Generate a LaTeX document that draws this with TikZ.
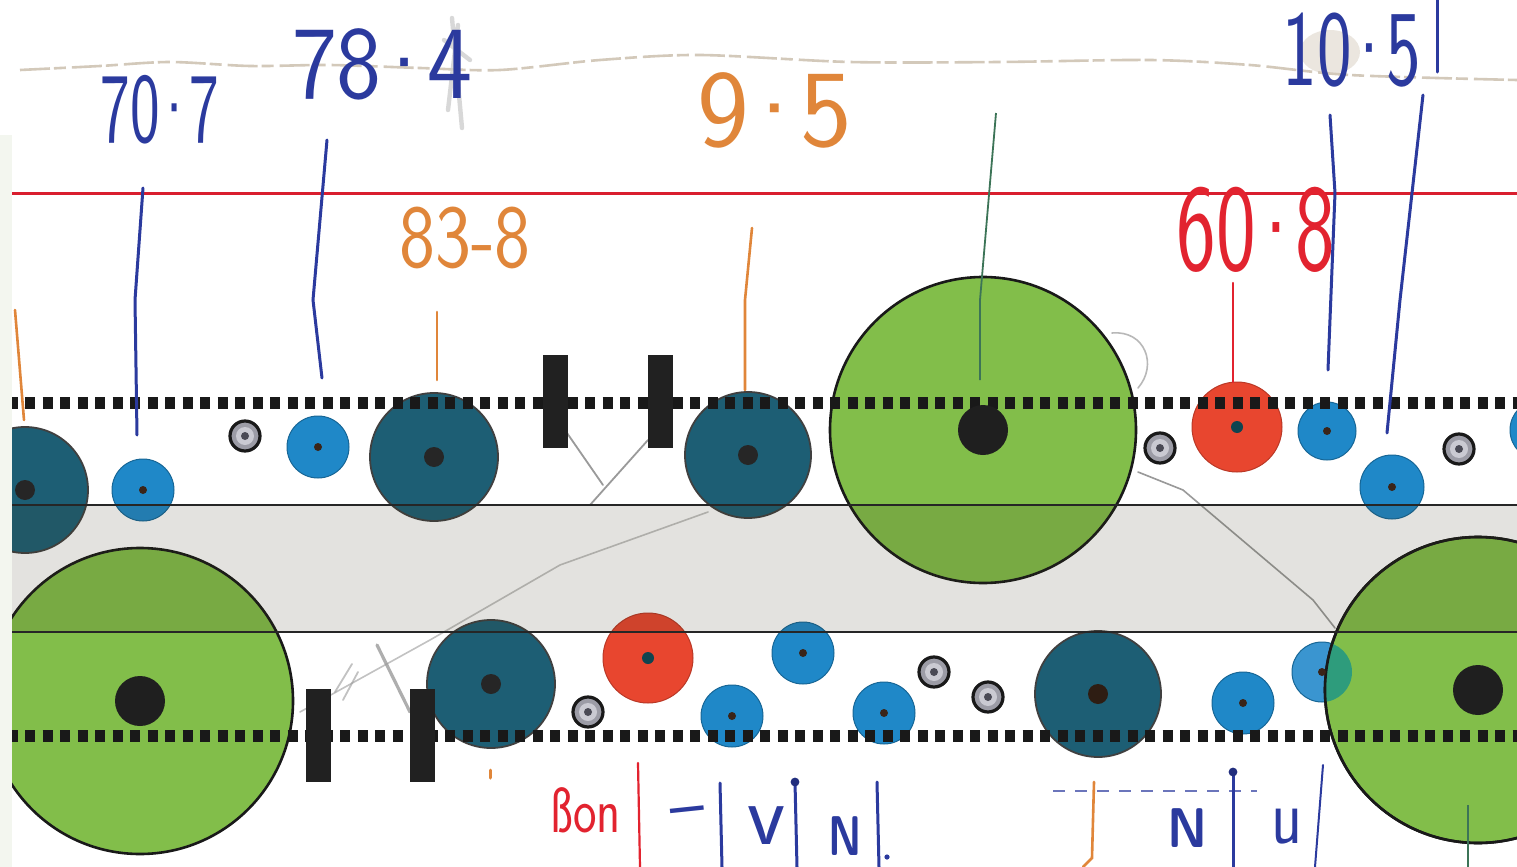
\documentclass[tikz,border=0pt]{standalone}
\usepackage{fontspec}
\usepackage{graphicx}
\definecolor{tealC}{HTML}{1D5E74}
\definecolor{blueC}{HTML}{1F88C8}
\definecolor{blueL}{HTML}{3A95D0}
\definecolor{redC}{HTML}{E8462F}
\definecolor{greenC}{HTML}{82BE4A}
\definecolor{ringC}{HTML}{9C9CA6}
\definecolor{ringL}{HTML}{CACAD2}
\definecolor{ringD}{HTML}{4A4A55}
\definecolor{inkBlue}{HTML}{2B3A9E}
\definecolor{inkOrange}{HTML}{E0863A}
\definecolor{inkRed}{HTML}{E2232F}
\definecolor{inkGreen}{HTML}{3C7457}
\definecolor{ruleRed}{HTML}{D91E2E}
\definecolor{tapeC}{HTML}{D3C9BA}
\definecolor{stripC}{HTML}{F3F6EF}
\definecolor{pencil}{HTML}{9A9A9A}
\definecolor{dotBrown}{HTML}{3A2418}
\definecolor{dotTeal}{HTML}{0F4450}
\definecolor{overlapC}{HTML}{2E9C7C}
\definecolor{bandC}{RGB}{60,55,30}
\newcommand{\hw}[3]{\scalebox{#1}[1]{\fontsize{#2}{#2}\selectfont\sffamily #3}}
\newcommand{\md}{\kern-0.13em·\kern-0.13em}
\tikzset{
  tealc/.style={circle,inner sep=0pt,minimum size=#1pt,fill=tealC,draw=black!75,line width=0.9pt},
  bluec/.style={circle,inner sep=0pt,minimum size=#1pt,fill=blueC,draw=blueC!75!black,line width=0.5pt},
  redc/.style={circle,inner sep=0pt,minimum size=#1pt,fill=redC,draw=redC!80!black,line width=0.5pt},
  greenc/.style={circle,inner sep=0pt,minimum size=#1pt,fill=greenC,draw=black!90,line width=1.3pt},
  ringc/.style={circle,inner sep=0pt,minimum size=15pt,fill=ringC,draw=black!90,line width=1.6pt},
  ringin/.style={circle,inner sep=0pt,minimum size=9pt,fill=ringL},
  ringdot/.style={circle,inner sep=0pt,minimum size=4pt,fill=ringD},
  tdot/.style={circle,inner sep=0pt,minimum size=10pt,fill=black!85},
  bdot/.style={circle,inner sep=0pt,minimum size=4pt,fill=dotBrown},
  rdot/.style={circle,inner sep=0pt,minimum size=6pt,fill=dotTeal},
  gdot/.style={circle,inner sep=0pt,minimum size=25pt,fill=black!88},
  bar/.style={rectangle,inner sep=0pt,minimum width=12.5pt,minimum height=46.5pt,fill=black!87},
  dotrow/.style={line width=6pt,dash pattern=on 5pt off 3.75pt,dash phase=2.25pt,black!90},
  thinrule/.style={line width=1pt,black!85},
  lab/.style={inner sep=0pt,anchor=center},
  inkb/.style={inkBlue,line width=1.5pt,line cap=round},
  inko/.style={inkOrange,line width=1.3pt,line cap=round},
  inkr/.style={inkRed,line width=1.1pt,line cap=round},
  pen/.style={pencil,line width=0.9pt,line cap=round},
}
\begin{document}
\begin{tikzpicture}[x=0.5pt,y=-0.5pt]
\useasboundingbox (0,0) rectangle (1517,867);
\fill[white] (0,0) rectangle (1517,867);
% tape smudge at the top
\draw[tapeC,line width=1.3pt,dash pattern=on 15pt off 2pt on 6pt off 3pt]
  plot[smooth] coordinates {(20,70) (100,66) (170,62) (250,66) (330,65) (420,68) (500,70) (600,60) (700,55) (850,62) (1000,62) (1150,60) (1250,65) (1350,75) (1517,80)};
\fill[tapeC,opacity=0.45] (1330,52) ellipse [x radius=15pt,y radius=11pt];
\draw[gray!40,line width=2.2pt,opacity=0.75,line cap=round] (452,18) -- (462,128) (444,40) -- (470,60) (458,25) -- (448,110);
% red rule
\coordinate (rl) at (12,193);
\coordinate (rr) at (1517,193);
\draw[ruleRed,line width=1.5pt] (rl) -- (rr);
% pencil lines
\draw[pen] (567,433) -- (603,485);
\draw[pen] (648,440) -- (590,505);
\draw[pen,opacity=0.6,line width=0.8pt] (708,512) -- (560,565) -- (430,640) -- (300,712);
\draw[pen,line width=1.6pt,opacity=0.8] (377,645) -- (410,712);
\draw[pen,opacity=0.6] (335,692) -- (352,664) (343,700) -- (358,672);
\draw[pen,line width=0.8pt] (1138,472) -- (1183,490) -- (1313,600) -- (1335,628);
\draw[pen,opacity=0.7,line width=0.8pt] (1112,333) .. controls (1145,330) and (1158,365) .. (1138,388);
% top row circles
\node[tealc=63] (T1) at (25,490) {};
\node[bluec=31] (B1) at (143,490) {};
\node[ringc] (R1) at (245,436) {};
\node[bluec=31] (B2) at (318,447) {};
\node[tealc=64] (T2) at (434,457) {};
\node[tealc=63] (T3) at (748,455) {};
\node[greenc=153] (G1) at (983,430) {};
\node[ringc] (R2) at (1160,448) {};
\node[redc=45] (Q1) at (1237,427) {};
\node[bluec=29] (B3) at (1327,431) {};
\node[bluec=32] (B4) at (1392,487) {};
\node[ringc] (R3) at (1459,449) {};
\node[bluec=30] (B5) at (1540,430) {};
% bottom row circles
\node[greenc=153] (G2) at (140,701) {};
\node[tealc=64] (T4) at (491,684) {};
\node[ringc] (R4) at (588,712) {};
\node[redc=45] (Q2) at (648,658) {};
\node[bluec=31] (B6) at (732,716) {};
\node[bluec=31] (B7) at (803,653) {};
\node[bluec=31] (B8) at (884,713) {};
\node[ringc] (R5) at (934,672) {};
\node[ringc] (R6) at (988,697) {};
\node[tealc=63] (T5) at (1098,694) {};
\node[bluec=31] (B9) at (1243,703) {};
\node[bluec=30,fill=blueL] (B10) at (1322,672) {};
\node[greenc=153] (G3) at (1478,690) {};
\begin{scope}
  \clip (G3.center) circle [radius=76.5pt];
  \fill[overlapC] (B10.center) circle [radius=15pt];
\end{scope}
\draw[black!90,line width=1.3pt] (G3.center) circle [radius=76.5pt];
% grey band
\fill[bandC,fill opacity=0.14] (12,505) rectangle (1517,632);
\coordinate (b1l) at (12,505);
\coordinate (b1r) at (1517,505);
\coordinate (b2l) at (12,632);
\coordinate (b2r) at (1517,632);
\draw[thinrule] (b1l) -- (b1r);
\draw[thinrule] (b2l) -- (b2r);
% dotted rows
\coordinate (d1l) at (12,403);
\coordinate (d1r) at (1517,403);
\coordinate (d2l) at (12,736);
\coordinate (d2r) at (1517,736);
\draw[dotrow] (d1l) -- (d1r);
\draw[dotrow] (d2l) -- (d2r);
% bars
\node[bar] (K1) at (555.5,401.5) {};
\node[bar] (K2) at (660.5,401.5) {};
\node[bar] (K3) at (318.5,735) {};
\node[bar] (K4) at (422.5,735) {};
% centre dots
\node[tdot] (dT1) at (T1.center) {};
\node[tdot] (dT2) at (T2.center) {};
\node[tdot] (dT3) at (T3.center) {};
\node[tdot] (dT4) at (T4.center) {};
\node[tdot,fill=dotBrown!80!black] (dT5) at (T5.center) {};
\node[gdot] (dG1) at (G1.center) {};
\node[gdot] (dG2) at (G2.center) {};
\node[gdot] (dG3) at (G3.center) {};
\node[rdot] (dQ1) at (Q1.center) {};
\node[rdot] (dQ2) at (Q2.center) {};
\foreach \b in {B1,B2,B3,B4,B5,B6,B7,B8,B9,B10} {\node[bdot] (d\b) at (\b.center) {};}
\foreach \r in {R1,R2,R3,R4,R5,R6} {\node[ringin] (i\r) at (\r.center) {}; \node[ringdot] (c\r) at (\r.center) {};}
% labels
\node[lab,text=inkBlue] (l707) at (160,110) {\hw{0.63}{50}{70\md7}};
\node[lab,text=inkBlue] (l784) at (382,64) {\hw{0.92}{52}{78\md4}};
\node[lab,text=inkOrange] (l838) at (465,238) {\hw{0.85}{45}{83-8}};
\node[lab,text=inkOrange] (l95) at (775,110) {\hw{1.0}{55}{9\md5}};
\node[lab,text=inkRed] (l608) at (1256,230) {\hw{0.68}{62}{60\md8}};
\node[lab,text=inkBlue] (l105) at (1352,50) {\hw{0.68}{54}{10\md5}};
% label leader lines
\coordinate (a1) at (15,310); \coordinate (a2) at (24,420);
\draw[inko] (a1) -- (a2);
\coordinate (a3) at (143,188); \coordinate (a4) at (135,300); \coordinate (a5) at (137,435);
\draw[inkb] (a3) -- (a4) -- (a5);
\coordinate (a6) at (327,140); \coordinate (a7) at (313,300); \coordinate (a8) at (322,378);
\draw[inkb] (a6) -- (a7) -- (a8);
\coordinate (a9) at (437,312); \coordinate (a10) at (437,380);
\draw[inko] (a9) -- (a10);
\coordinate (a11) at (752,228); \coordinate (a12) at (745,300); \coordinate (a13) at (745,390);
\draw[inko] (a11) -- (a12) -- (a13);
\coordinate (a14) at (996,113); \coordinate (a15) at (980,300); \coordinate (a16) at (980,380);
\draw[inkGreen,line width=0.9pt] (a14) -- (a15) -- (a16);
\coordinate (a17) at (1233,283); \coordinate (a18) at (1233,382);
\draw[inkr] (a17) -- (a18);
\coordinate (a19) at (1330,115); \coordinate (a20) at (1335,193); \coordinate (a21) at (1328,370);
\draw[inkb] (a19) -- (a20) -- (a21);
\coordinate (a22) at (1423,95); \coordinate (a23) at (1400,300); \coordinate (a24) at (1387,433);
\draw[inkb] (a22) -- (a23) -- (a24);
\coordinate (a25) at (1437,0); \coordinate (a26) at (1437,72);
\draw[inkb] (a25) -- (a26);
% bottom marks
\node[lab,text=inkRed] (lbon) at (586,810) {\hw{0.78}{32}{ßon}};
\coordinate (m1) at (638,763); \coordinate (m2) at (640,867);
\draw[inkr] (m1) -- (m2);
\node[lab,text=inkBlue,rotate=6] (ldash) at (688,818) {\hw{1}{36}{–}};
\coordinate (m3) at (720,783); \coordinate (m4) at (722,867);
\draw[inkb] (m3) -- (m4);
\node[lab,text=inkBlue] (lv) at (767,826) {\hw{1}{44}{v}};
\coordinate (m5) at (795,782); \coordinate (m6) at (797,867);
\draw[inkb] (m5) -- (m6);
\fill[inkBlue!80!black] (m5) circle [radius=2.2pt];
\node[lab,text=inkBlue] (lN1) at (845,836) {\hw{0.75}{28}{\bfseries N}};
\coordinate (m7) at (877,782); \coordinate (m8) at (879,867);
\draw[inkb] (m7) -- (m8);
\fill[inkBlue] (887,857) circle [radius=1.3pt];
\coordinate (m9) at (490,770); \coordinate (m10) at (490,778);
\draw[inko,line width=1.5pt] (m9) -- (m10);
\coordinate (m11) at (1094,782); \coordinate (m12) at (1092,858); \coordinate (m13) at (1083,867);
\draw[inko] (m11) -- (m12) -- (m13);
\coordinate (m14) at (1053,791); \coordinate (m15) at (1257,791);
\draw[inkBlue!70,line width=0.6pt,dash pattern=on 6pt off 5pt] (m14) -- (m15);
\node[lab,text=inkBlue] (lN2) at (1188,828) {\hw{0.9}{28}{\bfseries N}};
\coordinate (m16) at (1233,772); \coordinate (m17) at (1233,867);
\draw[inkb] (m16) -- (m17);
\fill[inkBlue!80!black] (m16) circle [radius=2.2pt];
\node[lab,text=inkBlue] (lu) at (1287,827) {\hw{0.8}{40}{u}};
\coordinate (m18) at (1323,765); \coordinate (m19) at (1315,867);
\draw[inkb,line width=1pt] (m18) -- (m19);
\coordinate (m20) at (1468,805); \coordinate (m21) at (1468,867);
\draw[inkGreen,line width=1pt] (m20) -- (m21);
% left paper strip
\fill[white] (0,0) rectangle (12,867);
\fill[stripC] (0,135) rectangle (12,867);
\end{tikzpicture}
\end{document}
